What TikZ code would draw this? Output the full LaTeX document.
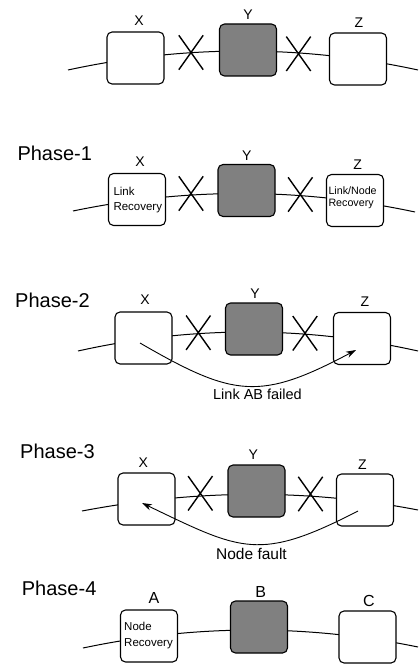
\documentclass[tikz,border=0pt]{standalone}
\usepackage{fontspec}
\setmainfont{Liberation Sans}
\usetikzlibrary{shapes.misc,arrows.meta}
\definecolor{nodegray}{RGB}{128,128,128}
\tikzset{
  unitbox/.style={draw=black, line width=1.1pt, rounded corners=5pt,
    minimum width=57pt, minimum height=52pt, inner sep=0pt, fill=white},
  failedbox/.style={unitbox, fill=nodegray},
  ringline/.style={line width=1pt},
  linkcut/.style={draw, cross out, line width=1.4pt,
    minimum width=23pt, minimum height=33pt, inner sep=0pt},
  nodename/.style={font=\fontsize{14}{16}\selectfont, inner sep=0pt},
  bignodename/.style={font=\fontsize{16}{18}\selectfont, inner sep=0pt},
  phasename/.style={font=\fontsize{20}{24}\selectfont, inner sep=0pt, anchor=west},
  boxnote/.style={font=\fontsize{11.5}{13}\selectfont, inner sep=0pt, anchor=base west},
  smallnote/.style={font=\fontsize{10.7}{12}\selectfont, inner sep=0pt, anchor=base west},
  flowline/.style={line width=0.9pt, -{Stealth[length=10pt,width=6.5pt]}},
  flowlabel/.style={font=\fontsize{14.5}{16}\selectfont, inner sep=0pt},
}
\begin{document}
\begin{tikzpicture}[x=1pt,y=-1pt]
\useasboundingbox (0,0) rectangle (419,666);

% ---------- initial state ----------
\coordinate (r0l) at (68,70);
\coordinate (r0r) at (418,70);
\draw[ringline] (r0l) .. controls (184.7,44.7) and (301.3,44.7) .. (r0r);
\node[unitbox]   (x0) at (135.5,58) {};
\node[failedbox] (y0) at (248,50) {};
\node[unitbox]   (z0) at (358,59) {};
\node[nodename] (x0t) at (139,20.7) {X};
\node[nodename] (y0t) at (248,14.5) {Y};
\node[nodename] (z0t) at (359,22.3) {Z};
\node[linkcut] (k0a) at (191,52.5) {};
\node[linkcut] (k0b) at (298.5,53.8) {};

% ---------- Phase-1 ----------
\node[phasename] (p1) at (17.3,153.7) {Phase-1};
\coordinate (r1l) at (73,211);
\coordinate (r1r) at (415,212);
\draw[ringline] (r1l) .. controls (187,187.3) and (301,187.7) .. (r1r);
\node[unitbox]   (x1) at (137,199.5) {};
\node[failedbox] (y1) at (246.5,190.5) {};
\node[unitbox]   (z1) at (355,200.5) {};
\node[nodename] (x1t) at (140,161.7) {X};
\node[nodename] (y1t) at (246.7,155.7) {Y};
\node[nodename] (z1t) at (357.7,164.3) {Z};
\node[linkcut] (k1a) at (191,193.5) {};
\node[linkcut] (k1b) at (300.3,194.5) {};
\node[boxnote] (x1n1) at (113.3,195.7) {Link};
\node[boxnote] (x1n2) at (113.3,210) {Recovery};
\node[smallnote] (z1n1) at (328.3,194.3) {Link/Node};
\node[smallnote] (z1n2) at (328.3,206.7) {Recovery};

% ---------- Phase-2 ----------
\node[phasename] (p2) at (15,300) {Phase-2};
\coordinate (r2l) at (78,351);
\coordinate (r2r) at (418,351);
\draw[ringline] (r2l) .. controls (191.3,325.7) and (304.7,325.7) .. (r2r);
\node[unitbox]   (x2) at (143.5,338) {};
\node[failedbox] (y2) at (254,329) {};
\node[unitbox]   (z2) at (362,338.5) {};
\node[nodename] (x2t) at (145,300) {X};
\node[nodename] (y2t) at (255,293.3) {Y};
\node[nodename] (z2t) at (365,301.7) {Z};
\node[linkcut] (k2a) at (198.3,332.7) {};
\node[linkcut] (k2b) at (305,333.3) {};
\coordinate (f2s) at (140,343);
\coordinate (f2e) at (356,350);
\draw[flowline] (f2s) .. controls (234,397.5) and (260,401) .. (f2e);
\node[flowlabel] (f2t) at (257.5,394.5) {Link AB failed};

% ---------- Phase-3 ----------
\node[phasename] (p3) at (20,451.7) {Phase-3};
\coordinate (r3l) at (82,511);
\coordinate (r3r) at (418,510);
\draw[ringline] (r3l) .. controls (194,489.7) and (306,488.3) .. (r3r);
\node[unitbox]   (x3) at (146.5,499) {};
\node[failedbox] (y3) at (256.5,491) {};
\node[unitbox]   (z3) at (365,500) {};
\node[nodename] (x3t) at (143.3,462.7) {X};
\node[nodename] (y3t) at (253.3,455) {Y};
\node[nodename] (z3t) at (362.3,465) {Z};
\node[linkcut] (k3a) at (200.3,493.3) {};
\node[linkcut] (k3b) at (310.5,494) {};
\coordinate (f3s) at (358,511);
\coordinate (f3e) at (142,503);
\draw[flowline] (f3s) .. controls (259,562) and (242,551) .. (f3e);
\node[flowlabel, font=\fontsize{15.5}{17}\selectfont] (f3t) at (251.5,553.5) {Node fault};

% ---------- Phase-4 ----------
\node[phasename] (p4) at (21.7,588.3) {Phase-4};
\coordinate (r4l) at (83,648);
\coordinate (r4r) at (418,647);
\draw[ringline] (r4l) .. controls (194.7,624.4) and (306.3,624) .. (r4r);
\node[unitbox]   (a4) at (149,636) {};
\node[failedbox] (b4) at (259,627) {};
\node[unitbox]   (c4) at (367.5,637) {};
\node[bignodename] (a4t) at (154,598) {A};
\node[bignodename] (b4t) at (260.8,592) {B};
\node[bignodename] (c4t) at (369,601) {C};
\node[boxnote] (a4n1) at (124,630.7) {Node};
\node[boxnote] (a4n2) at (124,646.7) {Recovery};
\end{tikzpicture}
\end{document}
